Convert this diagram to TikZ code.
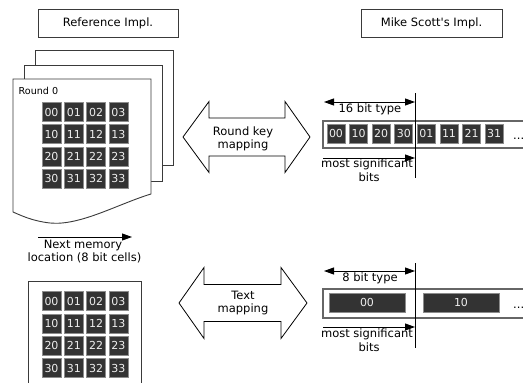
\documentclass[tikz,border=0pt]{standalone}
\usepackage{fontspec}
\setmainfont{DejaVu Sans}[Ligatures=TeXOff]
\usetikzlibrary{arrows.meta}

\definecolor{celldark}{HTML}{333333}
\definecolor{cellrim}{HTML}{8C8C8C}
\definecolor{celltext}{HTML}{EEEEEE}
\definecolor{rimgray}{HTML}{3A3A3A}

\tikzset{
  lbl/.style={font=\fontsize{11.5}{13.4}\selectfont, inner sep=0pt},
  titlebox/.style={draw=rimgray, line width=0.9pt, fill=white,
    minimum width=140pt, minimum height=28pt, inner sep=0pt,
    font=\fontsize{11.5}{13.4}\selectfont},
  cell/.style={fill=celldark, draw=cellrim, line width=0.8pt,
    minimum width=19pt, minimum height=19pt, inner sep=0pt,
    text=celltext, font=\fontsize{11}{13}\selectfont},
  wordcell/.style={cell, minimum width=18pt},
  bytecell/.style={cell, minimum width=76pt},
  page/.style={draw=rimgray, fill=white, line width=0.9pt},
  bigarrow/.style={draw=black, line width=0.8pt, fill=white},
  ptr/.style={line width=0.9pt, -{Triangle[length=10pt,width=7pt]}},
  spanarrow/.style={line width=0.9pt,
    {Triangle[length=10pt,width=7pt]}-{Triangle[length=10pt,width=7pt]}},
  divider/.style={line width=1pt},
  rowbox/.style={draw=black!60, line width=1.2pt, fill=white},
}

\begin{document}
\begin{tikzpicture}[x=1pt, y=-1pt]
\useasboundingbox (0,0) rectangle (523,383);
\clip (0,0) rectangle (523,383);

% ---- column headings ----
\node[titlebox] (refTitle) at (108,23) {Reference Impl.};
\node[titlebox, minimum width=141pt] (mikeTitle) at (431.5,23.5) {Mike Scott's Impl.};

% ---- stacked round-key pages ----
\draw[page] (35,50) rectangle (173,165);
\draw[page] (24,65) rectangle (162,181);
\draw[page] (13,79) -- (151,79) -- (151,194)
  .. controls (118,204) and (80,226) .. (50,223)
  .. controls (32,221) and (20,215) .. (13,212) -- cycle;
\node[anchor=base west, inner sep=0pt, font=\fontsize{9.6}{11}\selectfont]
  (roundLbl) at (18.5,94) {Round 0};

% round key bytes, 4x4
\foreach \r in {0,...,3}
  \foreach \c in {0,...,3}
    \node[cell] (k\r\c) at ({51.5+22.3*\c},{112+22.2*\r}) {\r\c};

% ---- memory direction ----
\coordinate (nmA) at (38,237);
\coordinate (nmB) at (132,237);
\draw[ptr] (nmA) -- (nmB);
\node[lbl, anchor=base] (nmLine1) at (83,248) {Next memory};
\node[lbl, anchor=base] (nmLine2) at (84.5,261) {location (8 bit cells)};

% ---- text state block ----
\draw[page] (28,281) rectangle (141,400);
\foreach \r in {0,...,3}
  \foreach \c in {0,...,3}
    \node[cell] (s\r\c) at ({51.5+22.3*\c},{301+22.4*\r}) {\r\c};

% ---- mapping arrows ----
\draw[bigarrow] (183,137) -- (209,101.5) -- (209,118) -- (285,118) -- (285,101.5)
  -- (310,137) -- (285,172.5) -- (285,156) -- (209,156) -- (209,172.5) -- cycle;
\node[lbl, anchor=base] (rkLine1) at (243,135) {Round key};
\node[lbl, anchor=base] (rkLine2) at (243,148) {mapping};

\draw[bigarrow] (179,303) -- (204,267.5) -- (204,284.5) -- (281,284.5) -- (281,267.5)
  -- (307,303) -- (281,338.5) -- (281,321.5) -- (204,321.5) -- (204,338.5) -- cycle;
\node[lbl, anchor=base] (txLine1) at (243,299) {Text};
\node[lbl, anchor=base] (txLine2) at (243,312) {mapping};

% ---- 16 bit words ----
\coordinate (divA) at (415,93);
\coordinate (divB) at (415,178);
\coordinate (wSpanA) at (324,102);
\coordinate (wSpanB) at (415,102);
\draw[spanarrow] (wSpanA) -- (wSpanB);
\node[lbl, anchor=base] (wType) at (370,112) {16 bit type};
\draw[rowbox] (323,121) rectangle (545,148);
\foreach \t [count=\i from 0] in {00,10,20,30,01,11,21,31}
  \node[wordcell] (w\i) at ({336+22.6*\i},133.5) {\t};
\node[lbl, anchor=base west] (wDots) at (513,139) {...};
\coordinate (wMsbA) at (323,158);
\coordinate (wMsbB) at (415,158);
\draw[ptr] (wMsbA) -- (wMsbB);
\node[lbl, anchor=base] (wMsb1) at (367,167) {most significant};
\node[lbl, anchor=base] (wMsb2) at (369,181) {bits};
\draw[divider] (divA) -- (divB);

% ---- 8 bit bytes ----
\coordinate (bDivA) at (415,263);
\coordinate (bDivB) at (415,348);
\coordinate (bSpanA) at (324,271);
\coordinate (bSpanB) at (415,271);
\draw[spanarrow] (bSpanA) -- (bSpanB);
\node[lbl, anchor=base] (bType) at (370,281) {8 bit type};
\draw[rowbox] (323,289) rectangle (545,318);
\node[bytecell] (b0) at (367,302.5) {00};
\node[bytecell] (b1) at (461,302.5) {10};
\node[lbl, anchor=base west] (bDots) at (513,308) {...};
\coordinate (bMsbA) at (323,327);
\coordinate (bMsbB) at (415,327);
\draw[ptr] (bMsbA) -- (bMsbB);
\node[lbl, anchor=base] (bMsb1) at (367,337) {most significant};
\node[lbl, anchor=base] (bMsb2) at (369,351) {bits};
\draw[divider] (bDivA) -- (bDivB);
\end{tikzpicture}
\end{document}
